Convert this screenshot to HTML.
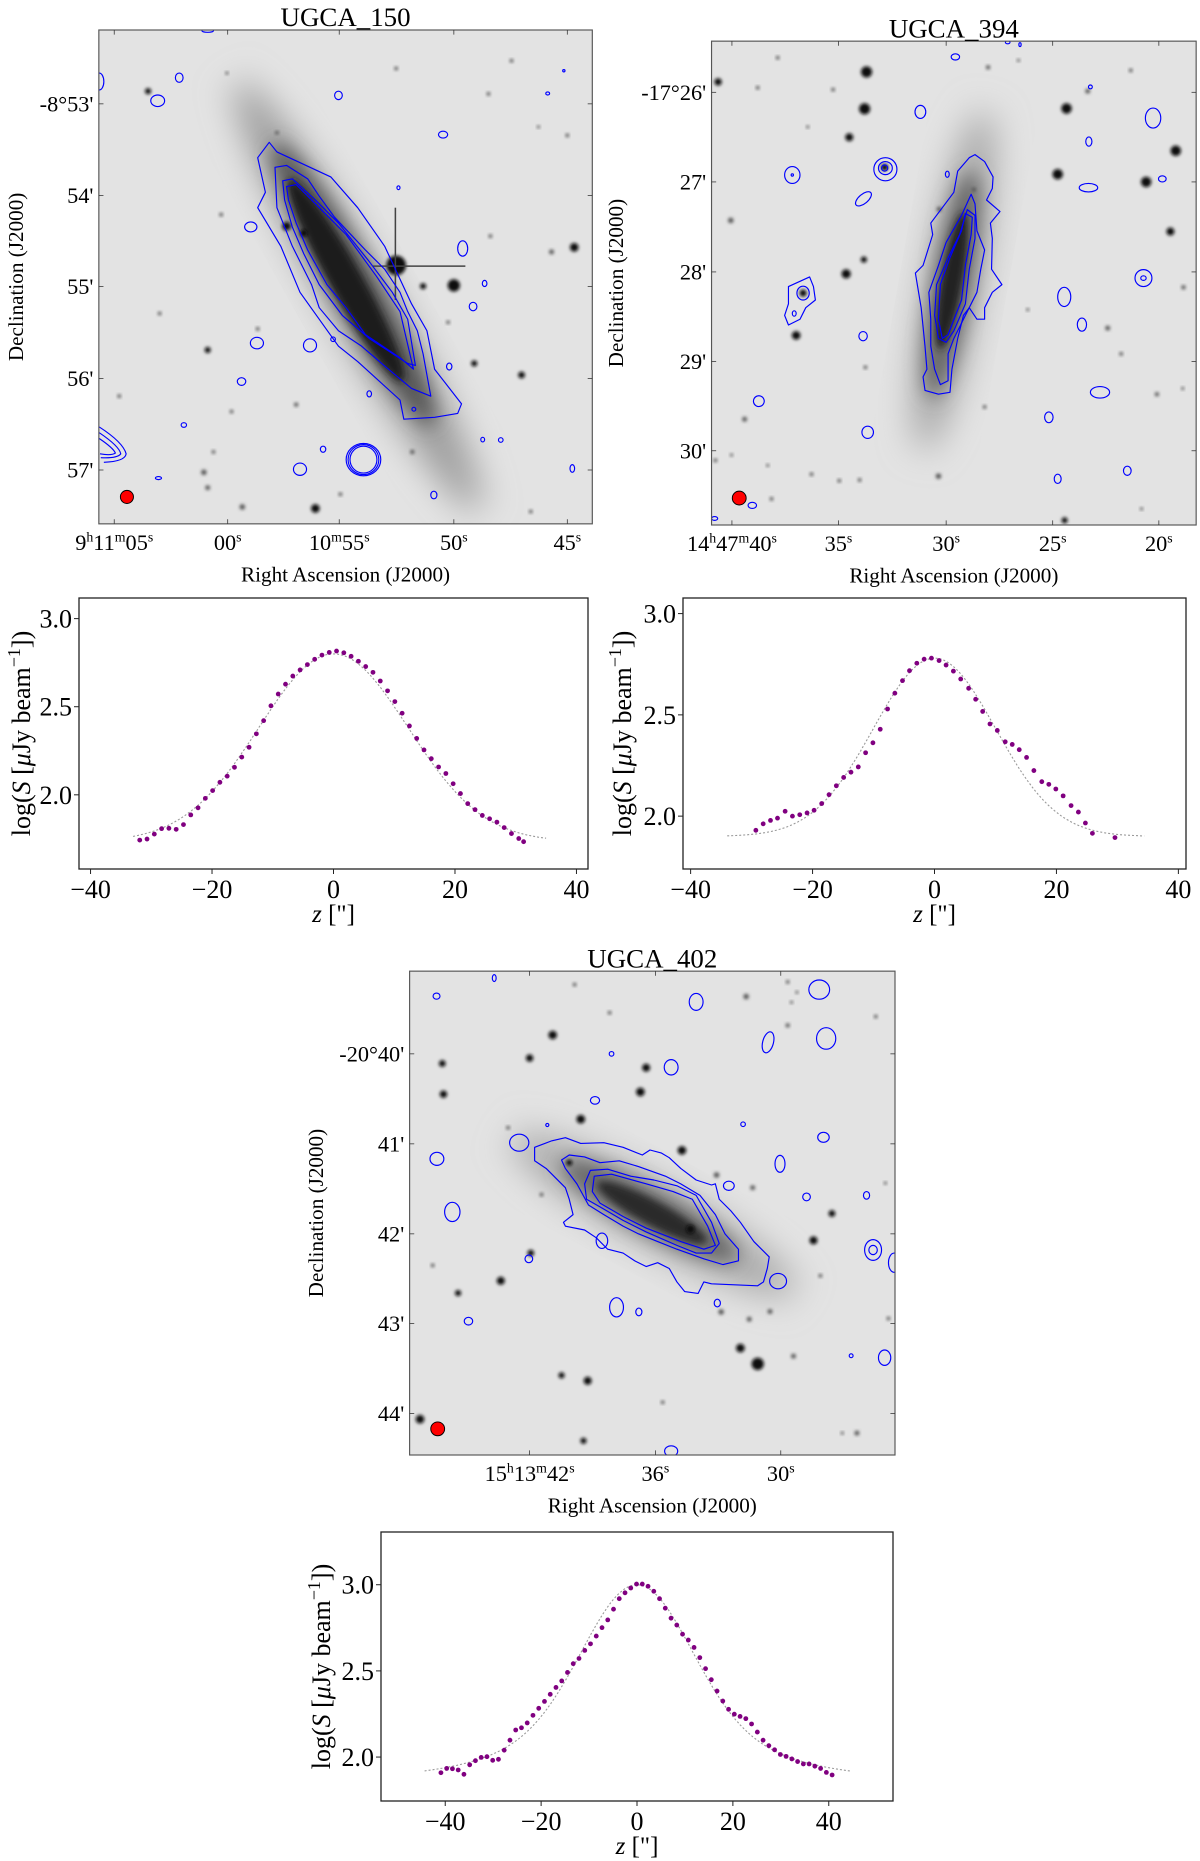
<!DOCTYPE html>
<html><head><meta charset="utf-8">
<style>
html,body{margin:0;padding:0;background:#fff;}
#root{position:relative;width:1200px;height:1861px;overflow:hidden;font-family:"Liberation Serif",serif;}
svg{position:absolute;overflow:visible;}
text{font-family:"Liberation Serif",serif;fill:#000;}
</style></head>
<body>
<div id="root">
<svg id="p1" style="left:0;top:0" width="600" height="600" viewBox="0 0 1560 1560"></svg>
<svg id="p2" style="left:600px;top:0" width="600" height="600" viewBox="0 0 1560 1560"></svg>
<svg id="p3" style="left:300px;top:930px" width="600" height="600" viewBox="0 0 1560 1560"></svg>
<svg id="charts" style="left:0;top:0" width="1200" height="1861"></svg>
</div>
<script>
// ---------- profile data ----------
const c1Z = [-31.9,-30.7,-29.5,-28.3,-27.1,-25.9,-24.7,-23.5,-22.3,-21.1,-19.9,-18.7,-17.5,-16.3,-15.1,-13.9,-12.7,-11.5,-10.3,-9.1,-7.9,-6.7,-5.5,-4.3,-3.1,-1.9,-0.7,0.5,1.7,2.9,4.1,5.3,6.5,7.7,8.9,10.1,11.3,12.5,13.7,14.9,16.1,17.3,18.5,19.7,20.9,22.1,23.3,24.5,25.7,26.9,28.1,29.3,30.5,31.3];
const c1V = [1.743,1.749,1.777,1.808,1.810,1.804,1.831,1.886,1.926,1.980,2.024,2.071,2.106,2.156,2.214,2.270,2.346,2.421,2.505,2.572,2.628,2.674,2.709,2.739,2.769,2.793,2.808,2.816,2.806,2.786,2.758,2.728,2.695,2.646,2.590,2.529,2.463,2.391,2.320,2.255,2.205,2.158,2.121,2.063,2.007,1.950,1.916,1.883,1.864,1.845,1.814,1.780,1.752,1.734];
const c1Fit = [1.735, 1.065, 12.3];
const c1FitRange = [-33, 35];

const c2Z = [-29.3,-28.1,-26.9,-25.75,-24.5,-23.3,-22.1,-20.9,-19.75,-18.5,-17.3,-16.1,-14.9,-13.7,-12.5,-11.3,-10.1,-8.9,-7.7,-6.5,-5.25,-4.1,-2.9,-1.7,-0.5,0.75,1.9,3.1,4.3,5.6,6.75,7.9,9.1,10.3,11.6,12.75,13.9,15.1,16.3,17.6,18.75,19.9,21.1,22.4,23.6,24.75,25.9,29.6];
const c2V = [1.930,1.962,1.979,1.990,2.024,2.000,2.007,2.016,2.029,2.062,2.106,2.150,2.191,2.217,2.243,2.313,2.362,2.429,2.529,2.607,2.669,2.718,2.755,2.775,2.780,2.768,2.746,2.716,2.677,2.631,2.577,2.517,2.455,2.423,2.367,2.354,2.328,2.290,2.225,2.170,2.157,2.134,2.100,2.052,2.020,1.966,1.915,1.894];
const c2Fit = [1.90, 0.88, 10.0];
const c2FitRange = [-34, 34.4];

const c3Z = [-40.9,-39.7,-38.5,-37.3,-36.1,-34.9,-33.7,-32.5,-31.3,-30.1,-28.9,-27.7,-26.5,-25.3,-24.1,-22.9,-21.7,-20.5,-19.3,-18.1,-16.9,-15.7,-14.5,-13.3,-12.1,-10.9,-9.7,-8.5,-7.3,-6.1,-4.9,-3.7,-2.5,-1.3,-0.1,1.1,2.3,3.5,4.7,5.9,7.1,8.3,9.5,10.7,11.9,13.1,14.3,15.5,16.7,17.9,19.1,20.3,21.5,22.7,23.9,25.1,26.3,27.5,28.7,29.9,31.1,32.3,33.5,34.7,35.9,37.1,38.3,39.5,40.7];
const c3V = [1.909,1.934,1.932,1.925,1.900,1.955,1.979,1.998,2.002,1.981,1.987,2.040,2.098,2.157,2.170,2.198,2.242,2.283,2.323,2.364,2.404,2.442,2.491,2.542,2.572,2.619,2.657,2.702,2.751,2.796,2.858,2.919,2.953,2.981,3.004,3.004,2.991,2.962,2.919,2.864,2.806,2.766,2.713,2.679,2.636,2.577,2.513,2.449,2.383,2.325,2.277,2.249,2.236,2.223,2.192,2.145,2.098,2.066,2.042,2.015,2.004,1.989,1.974,1.960,1.960,1.947,1.934,1.911,1.896];
const c3FitBase = [1.88];
const c3FitAmps = [0.82, 0.30];
const c3FitSigmas = [11, 22];
const c3FitRange = [-44.3, 44.6];

const xTicks12 = [-40,-20,0,20,40];
const yTicks = [2.0,2.5,3.0];
const yTickLabels = ["2.0","2.5","3.0"];

const NS='http://www.w3.org/2000/svg';
const SERIF='"Liberation Serif", "DejaVu Serif", serif';
function mk(parent,tag,attrs){const e=document.createElementNS(NS,tag);for(const k in attrs)e.setAttribute(k,attrs[k]);if(tag==='text')e.setAttribute('font-family',SERIF);parent.appendChild(e);return e;}

// ---------- charts ----------
const CH=document.getElementById('charts');
function drawChart(cfg){
  const g=mk(CH,'g',{});
  
  
  const X=v=>cfg.x0+(v-cfg.xd[0])/(cfg.xd[1]-cfg.xd[0])*(cfg.x1-cfg.x0);
  const Y=v=>cfg.y1-(v-cfg.yd[0])/(cfg.yd[1]-cfg.yd[0])*(cfg.y1-cfg.y0);
  const box=mk(g,'rect',{x:cfg.x0,y:cfg.y0,width:cfg.x1-cfg.x0,height:cfg.y1-cfg.y0,fill:'none',stroke:'#222','stroke-width':1.3});
  
  
  xTicks12.forEach(t=>{
    const x=X(t);
    const tk=mk(g,'line',{x1:x,x2:x,y1:cfg.y1,y2:cfg.y1+5,stroke:'#222','stroke-width':1});
    
    
    const tx=mk(g,'text',{x:x,y:cfg.y1+29,'text-anchor':'middle','font-size':26});
    tx.textContent=(t<0?'\u2212':'')+Math.abs(t);
    
    
  });
  yTicks.forEach((t,i)=>{
    const y=Y(t);
    const tk=mk(g,'line',{x1:cfg.x0-5,x2:cfg.x0,y1:y,y2:y,stroke:'#222','stroke-width':1});
    
    
    const tx=mk(g,'text',{x:cfg.x0-7,y:y+9,'text-anchor':'end','font-size':26});
    tx.textContent=yTickLabels[i];
    
    
  });
  let d='';
  for(let k=0;k<=200;k++){const z=cfg.fr[0]+(cfg.fr[1]-cfg.fr[0])*k/200;d+=(k?'L':'M')+X(z).toFixed(1)+' '+Y(cfg.fit(z)).toFixed(1);}
  const fp=mk(g,'path',{d:d,fill:'none',stroke:'#9a9a9a','stroke-width':1.1,'stroke-dasharray':'2,2'});
  
  
  cfg.z.forEach((z,i)=>{
    const c=mk(g,'circle',{cx:X(z),cy:Y(cfg.v[i]),r:2.4,fill:'#800080'});
    
    
  });
  const yl=mk(g,'text',{x:0,y:0,'text-anchor':'middle','font-size':26,transform:`translate(${cfg.ylx},${(cfg.y0+cfg.y1)/2}) rotate(-90)`});
  yl.innerHTML='log(<tspan font-style="italic">S</tspan> [<tspan font-style="italic">\u03bc</tspan>Jy beam<tspan dy="-10" font-size="18">\u22121</tspan><tspan dy="10">])</tspan>';
  
  
  const xl=mk(g,'text',{x:(cfg.x0+cfg.x1)/2,y:cfg.y1+53,'text-anchor':'middle','font-size':25});
  xl.innerHTML='<tspan font-style="italic">z</tspan> ["]';
  
  
}
const gauss=(p)=>z=>p[0]+p[1]*Math.exp(-z*z/(2*p[2]*p[2]));
drawChart({name:'ugca150-profile-chart',x0:79,x1:588,y0:598,y1:869,xd:[-41.9,41.9],yd:[1.579,3.117],z:c1Z,v:c1V,fit:gauss(c1Fit),fr:c1FitRange,ylx:30});
drawChart({name:'ugca394-profile-chart',x0:683,x1:1186,y0:598,y1:869,xd:[-41.25,41.25],yd:[1.739,3.077],z:c2Z,v:c2V,fit:gauss(c2Fit),fr:c2FitRange,ylx:631});
drawChart({name:'ugca402-profile-chart',x0:381,x1:893,y0:1532,y1:1801,xd:[-53.4,53.4],yd:[1.745,3.306],z:c3Z,v:c3V,
  fit:z=>c3FitBase[0]+c3FitAmps.reduce((s,a,i)=>s+a*Math.exp(-z*z/(2*c3FitSigmas[i]*c3FitSigmas[i])),0),fr:c3FitRange,ylx:330});

// ---------- sky image panels (coords in 1560-unit viewBox) ----------
function panel(id,P){
  const s=document.getElementById(id);
  const defs=mk(s,'defs',{});
  [['b4',4],['b10',10],['b25',25],['b45',45]].forEach(([n,v])=>{const f=mk(defs,'filter',{id:id+n,x:'-50%',y:'-50%',width:'200%',height:'200%'});mk(f,'feGaussianBlur',{stdDeviation:v});});
  const cp=mk(defs,'clipPath',{id:id+'clip'});
  mk(cp,'rect',{x:P.box[0],y:P.box[1],width:P.box[2]-P.box[0],height:P.box[3]-P.box[1]});
  const bg=mk(s,'rect',{x:P.box[0],y:P.box[1],width:P.box[2]-P.box[0],height:P.box[3]-P.box[1],fill:'#e3e3e3'});
  
  
  const g=mk(s,'g',{'clip-path':`url(#${id}clip)`});
  P.gal.forEach(e=>{
    const el=mk(g,'ellipse',{cx:e[0],cy:e[1],rx:e[2],ry:e[3],fill:e[5],transform:`rotate(${e[4]} ${e[0]} ${e[1]})`,filter:`url(#${id}${e[6]})`});
    
    
  });
  P.stars.forEach(st=>{
    const c=mk(g,'circle',{cx:st[0],cy:st[1],r:st[2]*0.8,fill:st[2]>9?'#111':'#555',filter:`url(#${id}b4)`});
    
    
  });
  (P.extra||[]).forEach(x=>{const e=mk(g,x[0],x[1]);});
  P.polys.forEach(pts=>{
    const p=mk(g,'polygon',{points:pts.map(q=>q.join(',')).join(' '),fill:'none',stroke:'#0000ff','stroke-width':3,'stroke-linejoin':'round'});
    
    
  });
  P.loops.forEach(l=>{
    const e=mk(g,'ellipse',{cx:l[0],cy:l[1],rx:l[2],ry:l[3],fill:'none',stroke:'#0000ff','stroke-width':3,transform:`rotate(${l[4]||0} ${l[0]} ${l[1]})`});
    
    
  });
  (P.paths||[]).forEach(d=>{
    const p=mk(g,'path',{d:d,fill:'none',stroke:'#0000ff','stroke-width':3});
    
    
  });
  const beam=mk(g,'ellipse',{cx:P.beam[0],cy:P.beam[1],rx:P.beam[2],ry:P.beam[3],fill:'#ff0000',stroke:'#000','stroke-width':2.5});
  
  
  const fr=mk(s,'rect',{x:P.box[0],y:P.box[1],width:P.box[2]-P.box[0],height:P.box[3]-P.box[1],fill:'none',stroke:'#555','stroke-width':3});
  
  
  P.ra.forEach(r=>{
    mk(s,'line',{x1:r[0],x2:r[0],y1:P.box[1],y2:P.box[1]+12,stroke:'#333','stroke-width':2});
    mk(s,'line',{x1:r[0],x2:r[0],y1:P.box[3],y2:P.box[3]-12,stroke:'#333','stroke-width':2});
    const t=mk(s,'text',{x:r[0],y:P.box[3]+68,'text-anchor':'middle','font-size':58});
    t.innerHTML=r[1];
    
    
  });
  P.dec.forEach(r=>{
    mk(s,'line',{x1:P.box[0],x2:P.box[0]+12,y1:r[0],y2:r[0],stroke:'#333','stroke-width':2});
    mk(s,'line',{x1:P.box[2],x2:P.box[2]-12,y1:r[0],y2:r[0],stroke:'#333','stroke-width':2});
    const t=mk(s,'text',{x:P.box[0]-14,y:r[0]+20,'text-anchor':'end','font-size':58});
    t.textContent=r[1];
    
    
  });
  const cx=(P.box[0]+P.box[2])/2, cy=(P.box[1]+P.box[3])/2;
  const ti=mk(s,'text',{x:cx,y:P.box[1]-10,'text-anchor':'middle','font-size':70});
  ti.textContent=P.title;
  
  
  const xa=mk(s,'text',{x:cx,y:P.box[3]+150,'text-anchor':'middle','font-size':55});
  xa.textContent='Right Ascension (J2000)';
  
  
  const ya=mk(s,'text',{x:0,y:0,'text-anchor':'middle','font-size':55,transform:`translate(60,${cy}) rotate(-90)`});
  ya.textContent='Declination (J2000)';
  
  
}
const S=(t)=>`<tspan dy="-22" font-size="36">${t}</tspan>`;
const N=(t)=>`<tspan dy="22">${t}</tspan>`;
panel('p1',{
  title:'UGCA_150',box:[257,78,1540,1362],beam:[330,1292,17,17],
  gal:[[930,770,640,80,60.7,'#9a9a9a','b45'],[920,740,420,60,60.7,'#555','b25'],[900,730,300,42,60.7,'#1a1a1a','b10']],
  stars:[[1030,690,32],[1180,742,20],[1100,744,10],[1493,643,14],[1434,655,8],[540,910,10],[1233,945,10],[1356,975,11],[820,1322,14],[630,1318,9],[530,1228,9],[540,1268,8],[745,588,14],[790,606,12],[770,1052,7],[1072,1175,7],[555,1175,6],[1380,1330,6],[1275,614,6],[1165,838,6],[415,815,6],[575,558,6],[1330,158,6],[1030,178,6],[1270,244,6],[1475,352,6],[720,345,6],[590,190,5],[1400,330,5],[385,237,10],[670,855,6],[885,1285,6],[602,1070,6],[310,1030,6]],
  extra:[['line',{x1:970,x2:1210,y1:692,y2:692,stroke:'#444','stroke-width':4}],['line',{x1:1028,x2:1028,y1:540,y2:780,stroke:'#444','stroke-width':4}]],
  polys:[
   [[670,410],[700,370],[720,395],[860,460],[930,540],[1000,640],[1070,790],[1110,860],[1130,960],[1200,1050],[1190,1075],[1130,1085],[1050,1090],[1040,1040],[930,940],[880,900],[780,760],[730,640],[670,540],[690,500]],
   [[715,435],[745,430],[800,465],[830,510],[870,565],[950,650],[1000,700],[1040,760],[1060,810],[1085,860],[1100,920],[1120,1030],[1070,1010],[1010,960],[940,900],[880,860],[830,800],[810,740],[760,640],[720,540]],
   [[735,470],[760,465],[820,520],[880,580],[960,680],[1020,760],[1060,830],[1080,950],[1060,945],[960,880],[890,820],[830,740],[790,660],[760,590],[740,520]],
   [[745,485],[770,480],[830,540],[900,610],[980,720],[1040,810],[1075,960],[1040,930],[950,870],[900,800],[850,740],[800,650],[770,580],[750,520]]],
  loops:[[410,262,18,15],[466,202,10,12],[880,248,10,11],[1152,350,12,9],[1036,488,4,5],[652,590,16,13],[1203,646,13,20],[1260,737,6,8],[1230,797,10,11],[668,892,17,15],[806,898,17,17],[866,882,6,6],[628,992,11,10],[960,1024,6,8],[1168,953,7,9],[1076,1064,5,5],[478,1105,7,6],[840,1168,7,8],[780,1220,17,16],[412,1243,8,4],[1128,1287,8,10],[1255,1143,5,6],[1302,1144,6,6],[1488,1218,6,10],[1424,243,5,4],[1466,184,3,3],[540,80,15,4],[945,1195,35,35],[945,1195,40,39],[945,1195,45,42],[258,212,12,22]],
  paths:['M258 1110 Q320 1150 328 1180 Q325 1200 270 1202','M258 1125 Q310 1160 314 1180 Q305 1192 262 1190','M258 1140 Q295 1165 300 1178 Q290 1185 260 1180'],
  ra:[[297,'9'+S('h')+N('11')+S('m')+N('05')+S('s')],[592,'00'+S('s')],[882,'10'+S('m')+N('55')+S('s')],[1180,'50'+S('s')],[1475,'45'+S('s')]],
  dec:[[270,"-8°53'"],[508,"54'"],[745,"55'"],[984,"56'"],[1222,"57'"]]
});
panel('p2',{
  title:'UGCA_394',box:[290,107,1550,1365],beam:[362,1295,18,18],
  gal:[[920,730,450,70,-80,'#a5a5a5','b45'],[915,740,300,50,-80,'#666','b25'],[915,730,180,28,-80,'#222','b10']],
  stars:[[693,187,18],[688,283,18],[648,357,13],[640,712,15],[510,872,14],[307,213,12],[340,573,9],[686,675,10],[882,544,8],[1213,282,17],[1190,453,17],[1420,473,17],[1497,392,17],[1483,602,13],[1268,237,8],[1009,175,7],[972,493,7],[880,1238,9],[376,1090,8],[1208,1353,10],[1320,853,8],[1448,1025,7],[1517,747,7],[1355,920,6],[1380,183,6],[462,150,6],[606,233,6],[410,228,6],[550,1233,6],[622,1250,6],[675,1248,6],[300,1197,6],[342,1183,5],[436,1210,5],[446,1297,6],[1000,1058,6],[690,955,6],[1088,157,5],[1515,1010,5],[1408,1323,5],[1112,805,5],[540,330,5],[528,762,12],[740,435,12]],
  polys:[
   [[975,402],[1000,420],[1022,460],[1020,490],[1005,520],[1040,550],[1015,580],[1020,620],[1018,700],[1045,740],[1020,760],[1000,800],[1000,830],[980,830],[960,800],[945,820],[930,880],[915,960],[910,1020],[880,1025],[845,1015],[840,980],[850,960],[845,900],[835,800],[825,740],[820,710],[840,690],[865,610],[860,580],[890,540],[920,500],[930,445],[960,410]],
   [[965,505],[975,530],[980,600],[1000,650],[990,700],[980,760],[950,820],[920,880],[905,920],[905,990],[885,1000],[870,960],[860,900],[860,830],[855,760],[880,690],[900,630],[940,560]],
   [[955,545],[975,560],[975,620],[960,700],[950,790],[920,860],[900,890],[880,880],[870,820],[875,740],[905,670],[935,610]],
   [[950,555],[968,565],[965,610],[950,690],[940,780],[905,870],[890,880],[880,830],[885,740],[910,670],[940,600]],
   [[490,745],[545,720],[555,745],[560,780],[535,800],[520,830],[490,845],[480,820],[490,790]]],
  loops:[[833,291,14,17],[924,148,11,8],[1060,110,6,4],[1092,116,3,5],[1275,226,5,5],[1438,307,20,26],[1271,368,8,12],[1270,488,24,11],[1462,465,10,8],[903,453,5,8],[500,455,20,22],[500,455,3,3],[742,440,30,30],[742,437,18,17],[740,437,8,8],[685,517,25,12,-40],[1413,723,22,22],[1413,723,7,6],[1207,772,17,25],[1253,844,12,17],[684,874,11,12],[1300,1020,25,15],[1167,1085,11,14],[696,1124,15,16],[413,1043,14,14,30],[1190,1245,9,12],[1371,1224,10,12],[396,1314,11,8],[298,1348,8,5],[528,762,16,18],[505,815,5,7]],
  ra:[[343,'14'+S('h')+N('47')+S('m')+N('40')+S('s')],[620,'35'+S('s')],[900,'30'+S('s')],[1177,'25'+S('s')],[1453,'20'+S('s')]],
  dec:[[240,"-17°26'"],[473,"27'"],[707,"28'"],[940,"29'"],[1172,"30'"]]
});
panel('p3',{
  title:'UGCA_402',box:[285,107,1547,1365],beam:[358,1297,18,18],
  gal:[[920,740,420,80,28.4,'#a8a8a8','b45'],[910,730,260,55,28.4,'#666','b25'],[915,735,160,32,28.4,'#2a2a2a','b10']],
  stars:[[657,273,14],[597,333,12],[370,347,11],[373,427,12],[900,358,13],[885,421,14],[730,492,14],[993,573,14],[1015,778,14],[1083,637,9],[1177,670,8],[1383,737,11],[1335,807,13],[600,840,11],[522,912,13],[411,944,10],[1095,993,9],[1168,1012,8],[1222,992,8],[1145,1087,14],[1190,1128,20],[1283,1108,8],[748,1172,13],[680,1158,10],[312,1272,14],[737,1328,10],[1448,1308,8],[1160,173,9],[1268,248,7],[1292,162,5],[1278,188,5],[1268,135,6],[1497,225,6],[805,215,6],[714,142,6],[541,514,6],[628,688,6],[700,605,10],[345,872,6],[943,1228,6],[1353,899,6],[1530,1010,6],[1522,658,5],[1410,1308,5]],
  polys:[
   [[610,565],[655,548],[690,540],[730,555],[790,553],[840,565],[890,585],[910,572],[940,580],[960,592],[990,620],[1030,650],[1070,663],[1080,660],[1090,700],[1120,730],[1145,760],[1180,810],[1220,850],[1215,880],[1205,915],[1190,925],[1070,920],[1050,915],[1035,945],[1000,940],[980,915],[960,880],[930,865],[900,875],[870,860],[840,840],[800,830],[770,800],[740,780],[690,770],[685,760],[710,740],[700,700],[690,670],[640,620],[610,600]],
   [[680,598],[700,585],[740,590],[780,605],[830,600],[880,615],[950,640],[990,660],[1040,690],[1080,740],[1105,790],[1140,830],[1140,860],[1100,870],[1050,855],[980,830],[930,810],[880,790],[840,770],[790,740],[750,715],[720,660],[690,620]],
   [[755,625],[800,622],[860,640],[920,650],[980,665],[1030,690],[1070,760],[1090,815],[1070,840],[1030,840],[980,820],[900,785],[840,755],[780,720],[745,700],[740,660]],
   [[765,640],[810,635],[900,660],[970,680],[1020,700],[1060,770],[1080,820],[1050,830],[990,810],[900,775],[840,745],[780,710],[760,680]]],
  loops:[[570,553,25,22],[356,595,18,17],[396,733,20,25],[767,443,12,10],[965,357,18,20],[1030,187,18,22],[1350,155,27,25],[1368,282,25,28],[1217,292,14,28,15],[1361,539,15,13],[1248,608,13,22],[1115,665,14,12],[1317,694,10,10],[1473,690,8,10],[1490,832,22,27],[1490,832,11,12],[1545,865,15,25],[1243,913,22,20],[785,808,15,20],[823,981,18,25],[881,993,8,10],[1085,970,8,10],[1520,1112,16,20],[1433,1107,5,5],[438,1017,11,10],[965,1355,17,14],[595,855,10,10],[810,322,6,6],[1152,505,6,6],[505,125,5,9],[355,172,9,8],[643,507,4,4]],
  ra:[[597,'15'+S('h')+N('13')+S('m')+N('42')+S('s')],[924,'36'+S('s')],[1250,'30'+S('s')]],
  dec:[[322,"-20°40'"],[556,"41'"],[790,"42'"],[1023,"43'"],[1257,"44'"]]
});
</script>
</body></html>
